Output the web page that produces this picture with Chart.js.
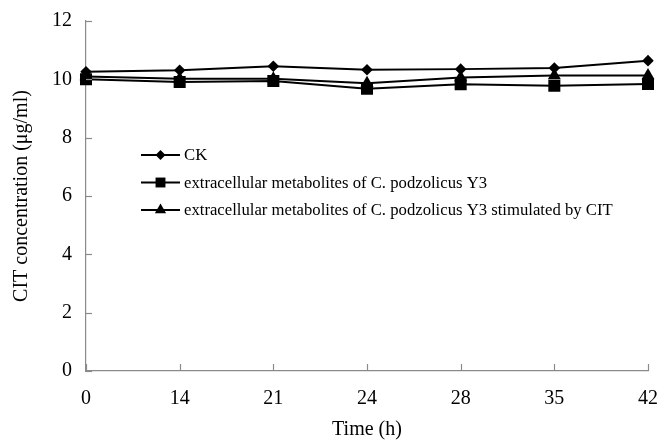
<!DOCTYPE html>
<html>
<head>
<meta charset="utf-8">
<script src="https://cdn.jsdelivr.net/npm/chart.js@4/dist/chart.umd.min.js"></script>
<style>
  html, body { margin: 0; padding: 0; background: #fff; }
  #wrap { width: 663px; height: 446px; position: relative; }
</style>
</head>
<body>
<div id="wrap"><canvas id="c"></canvas></div>
<script>
const timeLabels = ['0', '14', '21', '24', '28', '35', '42'];
const seriesNames = [
    'CK',
    'extracellular metabolites of C. podzolicus Y3',
    'extracellular metabolites of C. podzolicus Y3 stimulated by CIT',
];
const ckValues = [10.26, 10.31, 10.45, 10.33, 10.35, 10.39, 10.64];
const y3Values = [10.0, 9.91, 9.94, 9.68, 9.83, 9.78, 9.84];
const citValues = [10.1, 10.02, 10.02, 9.87, 10.06, 10.13, 10.13];
const yTicks = [0, 2, 4, 6, 8, 10, 12];

const serif = "'Liberation Serif', 'Times New Roman', serif";
const axisColor = '#8a8a8a';
const markerStyles = ['rectRot', 'rect', 'triangle'];
const markerSizes = [5.8, 8.5, 7.5];
const legendMarkerSizes = [5, 7, 6.5];

// tick marks point inward, so draw them ourselves off the scale positions
const innerTicksPlugin = {
    id: 'innerTicks',
    afterDraw(chart) {
        const { ctx, chartArea, scales } = chart;
        ctx.save();
        ctx.strokeStyle = axisColor;
        ctx.lineWidth = 1.2;
        scales.y.ticks.forEach((t) => {
            const y = Math.round(scales.y.getPixelForValue(t.value)) + 0.5;
            ctx.beginPath();
            ctx.moveTo(chartArea.left, y);
            ctx.lineTo(chartArea.left + 6, y);
            ctx.stroke();
        });
        scales.x.ticks.forEach((t, i) => {
            const x = Math.round(scales.x.getPixelForTick(i)) + 0.5;
            ctx.beginPath();
            ctx.moveTo(x, chartArea.bottom);
            ctx.lineTo(x, chartArea.bottom - 7);
            ctx.stroke();
        });
        ctx.restore();
    },
};

// legend drawn as line + marker, like the original figure
const lineLegendPlugin = {
    id: 'lineLegend',
    afterDraw(chart) {
        const { ctx } = chart;
        const x0 = 141;
        const lineLen = 39;
        const top = 155;
        const gap = 27.5;
        ctx.save();
        ctx.font = '16.7px ' + serif;
        ctx.textBaseline = 'middle';
        ctx.fillStyle = '#000';
        chart.data.datasets.forEach((ds, i) => {
            const y = top + i * gap;
            ctx.strokeStyle = '#000';
            ctx.lineWidth = 2;
            ctx.beginPath();
            ctx.moveTo(x0, y);
            ctx.lineTo(x0 + lineLen, y);
            ctx.stroke();
            Chart.helpers.drawPoint(ctx, {
                pointStyle: ds.pointStyle,
                radius: legendMarkerSizes[i],
                borderWidth: 0,
            }, x0 + lineLen / 2, y);
            ctx.fillText(ds.label, x0 + lineLen + 4, y + 1);
        });
        ctx.restore();
    },
};

const makeSet = (i, data) => ({
    label: seriesNames[i],
    data,
    borderColor: '#000',
    backgroundColor: '#000',
    borderWidth: 2,
    pointStyle: markerStyles[i],
    pointRadius: markerSizes[i],
    pointBorderWidth: 0,
    tension: 0,
});

new Chart(document.getElementById('c'), {
    type: 'line',
    data: {
        labels: timeLabels,
        datasets: [makeSet(0, ckValues), makeSet(1, y3Values), makeSet(2, citValues)],
    },
    options: {
        responsive: true,
        maintainAspectRatio: false,
        animation: false,
        events: [],
        layout: { padding: { top: 21, right: 15, bottom: 0, left: 0 } },
        scales: {
            x: {
                type: 'category',
                offset: false,
                grid: { display: false, drawTicks: false },
                border: { display: true, color: axisColor, width: 1.2 },
                ticks: { color: '#000', font: { family: serif, size: 20 }, padding: 16, maxRotation: 0 },
                title: { display: true, text: 'Time (h)', color: '#000', font: { family: serif, size: 20 }, padding: { top: 13 } },
                afterFit(scale) {
                    scale.height = 75;
                    scale.paddingLeft = 0;
                    scale.paddingRight = 0;
                },
            },
            y: {
                min: 0,
                max: 12,
                afterBuildTicks(scale) { scale.ticks = yTicks.map((v) => ({ value: v })); },
                grid: { display: false, drawTicks: false },
                border: { display: true, color: axisColor, width: 1.2 },
                ticks: { color: '#000', font: { family: serif, size: 20 }, padding: 14 },
                title: { display: true, text: 'CIT concentration (μg/ml)', color: '#000', font: { family: serif, size: 20 }, padding: { top: 10, bottom: 0 } },
                afterFit(scale) {
                    scale.width = 86;
                    scale.paddingTop = 0;
                    scale.paddingBottom = 0;
                },
            },
        },
        plugins: {
            legend: { display: false },
            tooltip: { enabled: false },
        },
    },
    plugins: [innerTicksPlugin, lineLegendPlugin],
});
</script>
</body>
</html>
